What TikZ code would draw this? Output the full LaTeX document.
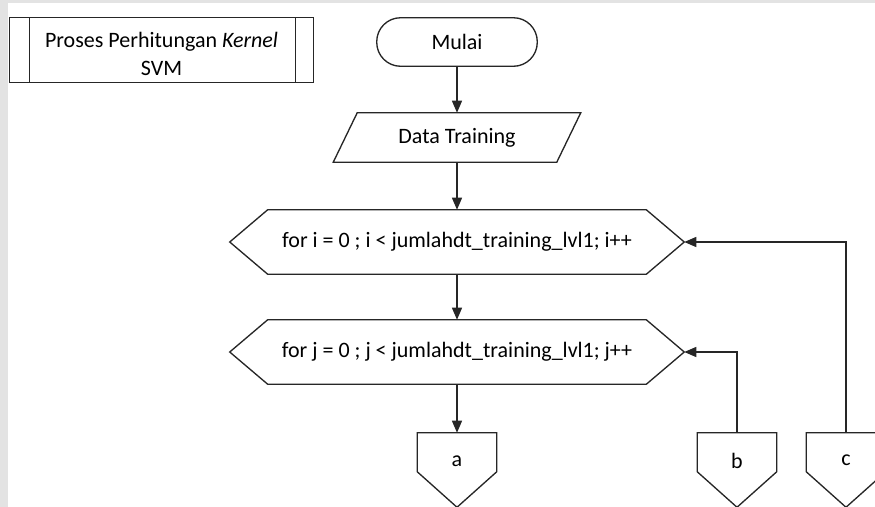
\documentclass[tikz,border=0pt]{standalone}
\usepackage{fontspec}
\setmainfont{Carlito}
\usetikzlibrary{arrows.meta}
\begin{document}
\begin{tikzpicture}[x=0.75pt,y=-0.75pt,
  every node/.style={font=\fontsize{16.5}{19}\selectfont, inner sep=0pt, align=center},
  outline/.style={draw=black!85, line width=1pt, line join=miter},
  flow/.style={draw=black!85, line width=1pt, -{Triangle[length=9pt,width=7.5pt]}},
  procbox/.style={minimum width=227.25pt, minimum height=48pt},
  termbox/.style={minimum width=120pt, minimum height=36pt},
  iobox/.style={minimum width=185.25pt, minimum height=36.75pt},
  loopbox/.style={minimum width=340.5pt, minimum height=48pt},
  pagebox/.style={minimum width=59.25pt, minimum height=55.5pt}
]
\useasboundingbox (0,0) rectangle (875,507);
\clip (0,0) rectangle (875,507);

% page edge shading
\fill[gray!22] (0,0) rectangle (8,507);
\fill[gray!22] (0,0) rectangle (875,3);

% nodes
\node[procbox] (proc) at (161.5,50) {};
\node[font=\fontsize{16.5}{21}\selectfont] (proctext) at ([yshift=-3pt]proc.center)
  {Proses Perhitungan \textit{Kernel}\\SVM};
\node[termbox] (start) at (457,42) {Mulai};
\node[iobox] (data) at (457,137.5) {Data Training};
\node[loopbox] (fi) at (457,242) {for i = 0 ; i < jumlahdt\_training\_lvl1; i++};
\node[loopbox] (fj) at (457,352) {for j = 0 ; j < jumlahdt\_training\_lvl1; j++};
\node[pagebox] (a) at (457,470) {};
\node[pagebox] (b) at (737,470) {};
\node[pagebox] (c) at (846,470) {};

% predefined process box
\draw[outline] (proc.north west) rectangle (proc.south east);
\draw[outline] ([xshift=15pt]proc.north west) -- ([xshift=15pt]proc.south west);
\draw[outline] ([xshift=-13.5pt]proc.north east) -- ([xshift=-13.5pt]proc.south east);

% terminator
\draw[outline, rounded corners=17.9pt] (start.north west) rectangle (start.south east);

% input/output
\draw[outline] ([xshift=18pt]data.north west) -- (data.north east)
  -- ([xshift=-18pt]data.south east) -- (data.south west) -- cycle;

% loop preparation hexagons
\foreach \n in {fi,fj}{
  \draw[outline] (\n.west) -- ([xshift=28.5pt]\n.north west) -- ([xshift=-28.5pt]\n.north east)
    -- (\n.east) -- ([xshift=-28.5pt]\n.south east) -- ([xshift=28.5pt]\n.south west) -- cycle;
}

% off-page connectors
\foreach \n/\t in {a/a,b/b,c/c}{
  \draw[outline] (\n.north west) -- (\n.north east) -- ([yshift=-29.25pt]\n.north east)
    -- (\n.south) -- ([yshift=-29.25pt]\n.north west) -- cycle;
  \node at ([yshift=-21pt]\n.north) {\t};
}

% connectors
\draw[flow] (start.south) -- (data.north);
\draw[flow] (data.south) -- (fi.north);
\draw[flow] (fi.south) -- (fj.north);
\draw[flow] (fj.south) -- (a.north);
\draw[flow] (b.north) |- (fj.east);
\draw[flow] (c.north) |- (fi.east);
\end{tikzpicture}
\end{document}
